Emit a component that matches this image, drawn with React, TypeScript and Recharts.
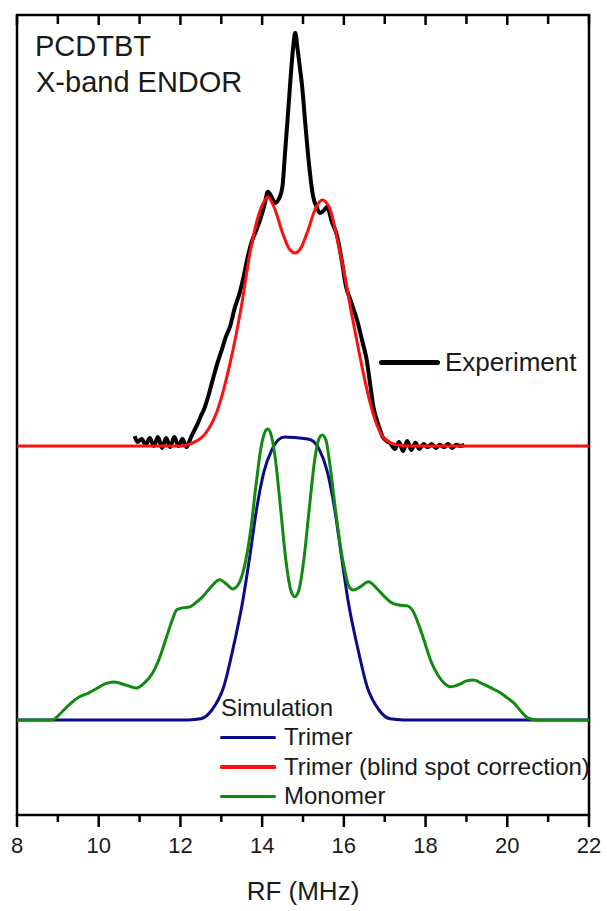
import React from 'react';
import { LineChart, Line, XAxis, YAxis, ReferenceArea, Legend } from 'recharts';

// ---------- data (intensities in a.u., lower simulation baseline = 0) ----------
const expRF = [10.88,10.95,11.05,11.15,11.25,11.35,11.45,11.55,11.65,11.75,11.85,11.95,12.05,12.15,12.25,12.32,12.42,12.5,12.57,12.67,12.77,12.9,13.01,13.12,13.21,13.33,13.45,13.55,13.65,13.75,13.85,13.95,14.05,14.14,14.22,14.32,14.42,14.5,14.56,14.62,14.68,14.76,14.81,14.87,14.93,14.98,15.05,15.12,15.25,15.33,15.42,15.52,15.59,15.7,15.84,15.95,16.05,16.16,16.33,16.45,16.55,16.65,16.72,16.8,16.87,16.95,17.05,17.15,17.25,17.35,17.45,17.55,17.65,17.75,17.85,17.95,18.05,18.15,18.25,18.35,18.45,18.55,18.65,18.75,18.85,18.95];
const expValues = [0.035,0.014,0.025,0.004,0.028,0.0,0.032,-0.007,0.028,-0.004,0.032,0.0,0.025,-0.004,0.028,0.049,0.078,0.106,0.127,0.170,0.223,0.290,0.339,0.389,0.420,0.488,0.541,0.601,0.671,0.724,0.760,0.799,0.848,0.898,0.883,0.859,0.876,0.92,1.035,1.15,1.269,1.41,1.46,1.40,1.33,1.269,1.15,1.035,0.88,0.845,0.823,0.834,0.845,0.795,0.739,0.654,0.565,0.516,0.442,0.371,0.311,0.212,0.141,0.095,0.064,0.032,0.018,0.007,-0.011,0.014,-0.018,0.018,-0.014,0.011,-0.011,0.007,-0.004,0.007,-0.007,0.004,-0.004,0.007,-0.007,0.004,0.0,0.004];

const trimerBSRF = [8,12.0,12.3,12.6,12.9,13.2,13.5,13.7,13.9,14.05,14.14,14.3,14.5,14.65,14.8,14.95,15.1,15.3,15.47,15.65,15.85,16.0,16.2,16.4,16.6,16.8,17.0,17.3,17.6,22];
const trimerBSValues = [0,0,0.011,0.042,0.124,0.283,0.50,0.68,0.81,0.865,0.88,0.841,0.753,0.700,0.682,0.700,0.753,0.837,0.869,0.841,0.724,0.618,0.459,0.311,0.177,0.078,0.025,0.004,0,0];

const trimerRF = [8,12.2,12.5,12.77,13.06,13.28,13.53,13.7,13.87,14.05,14.24,14.4,14.55,14.85,15.1,15.25,15.4,15.59,15.77,15.94,16.1,16.35,16.57,16.86,17.13,17.45,22];
const trimerValues = [0,0,0.004,0.035,0.117,0.247,0.424,0.58,0.75,0.88,0.955,0.99,1.0,0.997,0.993,0.985,0.955,0.88,0.75,0.58,0.424,0.247,0.117,0.035,0.004,0,0];

const monomerRF = [8,8.86,9.1,9.3,9.52,9.75,9.94,10.15,10.38,10.65,10.92,11.12,11.32,11.5,11.66,11.8,11.91,12.05,12.22,12.4,12.54,12.75,12.96,13.12,13.28,13.45,13.6,13.72,13.85,13.97,14.07,14.14,14.22,14.32,14.45,14.58,14.7,14.8,14.9,15.02,15.15,15.28,15.38,15.47,15.56,15.66,15.78,15.9,16.02,16.13,16.23,16.4,16.6,16.8,17.0,17.14,17.35,17.56,17.7,17.85,18.0,18.12,18.3,18.45,18.61,18.85,19.0,19.18,19.4,19.6,19.84,20.0,20.16,20.35,20.5,20.7,22];
const monomerValues = [0,0,0.028,0.057,0.081,0.095,0.110,0.127,0.134,0.124,0.113,0.131,0.166,0.223,0.293,0.353,0.389,0.396,0.399,0.417,0.435,0.470,0.495,0.481,0.463,0.488,0.565,0.671,0.830,0.961,1.018,1.028,1.007,0.926,0.749,0.565,0.459,0.435,0.459,0.565,0.742,0.912,0.989,1.007,0.989,0.901,0.760,0.629,0.530,0.470,0.459,0.470,0.488,0.466,0.435,0.417,0.406,0.403,0.382,0.329,0.265,0.212,0.159,0.131,0.117,0.127,0.138,0.141,0.127,0.113,0.095,0.078,0.060,0.028,0.007,0,0];

const xTicks = [8,9,10,11,12,13,14,15,16,17,18,19,20,21,22];
const UPPER_OFFSET = 0.968; // vertical offset of experiment / corrected trimer
const Y_MIN = -0.336;
const Y_MAX = 2.491;

const FONT = '"Liberation Sans", Arial, Helvetica, sans-serif';
const TEXT = '#1a1a1a';

const toPoints = (xs: number[], ys: number[], offset: number) =>
  xs.map((x, i) => ({ rf: x, v: ys[i] + offset }));

const expData = toPoints(expRF, expValues, UPPER_OFFSET);
const trimerBSData = toPoints(trimerBSRF, trimerBSValues, UPPER_OFFSET);
const trimerData = toPoints(trimerRF, trimerValues, 0);
const monomerData = toPoints(monomerRF, monomerValues, 0);

const simLegend = [
  { name: 'Trimer', color: '#0b0b8a' },
  { name: 'Trimer (blind spot correction)', color: '#ff1010' },
  { name: 'Monomer', color: '#118a11' },
];

const BottomTick = (props: any) => {
  const { x, y, payload } = props;
  const v = payload.value;
  const major = v % 2 === 0;
  return (
    <g>
      <line x1={x} x2={x} y1={y} y2={y + (major ? 12 : 7)} stroke="#000" strokeWidth={2.5} />
      {major && (
        <text x={x} y={y + 38} textAnchor="middle" fontSize={22} fontFamily={FONT} fill={TEXT}>
          {v}
        </text>
      )}
    </g>
  );
};

const TopTick = (props: any) => {
  const { x, y, payload } = props;
  const major = payload.value % 2 === 0;
  return <line x1={x} x2={x} y1={y} y2={y + (major ? 10 : 9)} stroke="#000" strokeWidth={2.5} />;
};

const LegendContent = () => (
  <div style={{ position: 'relative', width: 607, height: 911, fontFamily: FONT, color: TEXT, pointerEvents: 'none' }}>
    <div style={{ position: 'absolute', left: 35, top: 32, fontSize: 29, lineHeight: 1, whiteSpace: 'nowrap' }}>PCDTBT</div>
    <div style={{ position: 'absolute', left: 36, top: 68, fontSize: 29, lineHeight: 1, whiteSpace: 'nowrap' }}>X-band ENDOR</div>

    <div style={{ position: 'absolute', left: 379, top: 359.5, width: 61, height: 5, background: '#000', borderRadius: 2.5 }} />
    <div style={{ position: 'absolute', left: 445, top: 349, fontSize: 26, lineHeight: 1, whiteSpace: 'nowrap' }}>Experiment</div>

    <div style={{ position: 'absolute', left: 221, top: 696, fontSize: 24, lineHeight: 1, whiteSpace: 'nowrap' }}>Simulation</div>
    {simLegend.map((s, i) => (
      <React.Fragment key={s.name}>
        <div style={{ position: 'absolute', left: 220, top: 735.5 + i * 29.5, width: 56, height: 3.5, background: s.color, borderRadius: 1.5 }} />
        <div style={{ position: 'absolute', left: 284, top: 725 + i * 29.5, fontSize: 24, lineHeight: 1, whiteSpace: 'nowrap' }}>{s.name}</div>
      </React.Fragment>
    ))}
  </div>
);

export default function App() {
  return (
    <div style={{ position: 'absolute', left: 0, top: 0, width: 607, height: 911, background: '#fff' }}>
      <LineChart width={607} height={911} margin={{ top: 0, right: 18, bottom: 0, left: 17 }}>
        <XAxis
          xAxisId="top"
          orientation="top"
          type="number"
          dataKey="rf"
          domain={[8, 22]}
          ticks={xTicks}
          height={15}
          tickSize={0}
          tickMargin={0}
          axisLine={false}
          tickLine={false}
          tick={<TopTick />}
          interval={0}
          allowDataOverflow
        />
        <XAxis
          type="number"
          dataKey="rf"
          domain={[8, 22]}
          ticks={xTicks}
          height={96}
          tickSize={0}
          tickMargin={0}
          axisLine={false}
          tickLine={false}
          tick={<BottomTick />}
          interval={0}
          allowDataOverflow
          label={{ value: 'RF (MHz)', position: 'insideBottom', offset: 11, fontSize: 26, fontFamily: FONT, fill: TEXT }}
        />
        <YAxis hide type="number" domain={[Y_MIN, Y_MAX]} allowDataOverflow />
        <Line data={expData} dataKey="v" name="Experiment" type="monotone" stroke="#000" strokeWidth={4} dot={false} isAnimationActive={false} />
        <Line data={trimerBSData} dataKey="v" name="Trimer (blind spot correction)" type="monotone" stroke="#ff1010" strokeWidth={3} dot={false} isAnimationActive={false} />
        <Line data={trimerData} dataKey="v" name="Trimer" type="monotone" stroke="#0b0b8a" strokeWidth={3} dot={false} isAnimationActive={false} />
        <Line data={monomerData} dataKey="v" name="Monomer" type="monotone" stroke="#118a11" strokeWidth={3} dot={false} isAnimationActive={false} />
        <ReferenceArea x1={8} x2={22} y1={Y_MIN} y2={Y_MAX} fill="none" fillOpacity={0} stroke="#000" strokeWidth={2.5} ifOverflow="visible" />
        <Legend
          layout="vertical"
          align="center"
          verticalAlign="middle"
          content={<LegendContent />}
          wrapperStyle={{ left: 0, top: 0, width: 607, height: 911, pointerEvents: 'none' }}
        />
      </LineChart>
    </div>
  );
}
